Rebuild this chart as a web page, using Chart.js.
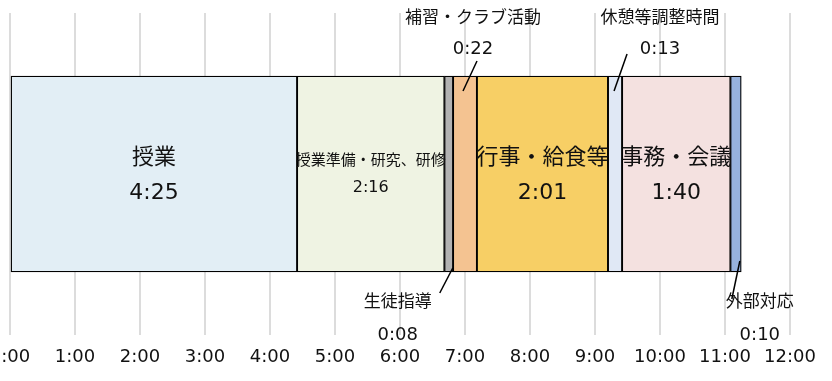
<!DOCTYPE html>
<html>
<head>
<meta charset="utf-8">
<script src="https://cdn.jsdelivr.net/npm/chart.js@4"></script>
<style>
  body { margin: 0; background: #fff; overflow: hidden; width: 832px; height: 381px; position: relative; }
  #wrap { position: absolute; left: -40px; top: 0; width: 880px; height: 381px; }
</style>
</head>
<body>
<div id="wrap"><canvas id="chart" width="880" height="381"></canvas></div>
<script>
// 活動ごとの時間（分）
const categories = ['授業', '授業準備・研究、研修', '生徒指導', '補習・クラブ活動', '行事・給食等', '休憩等調整時間', '事務・会議', '外部対応'];
const minutes = [265, 136, 8, 22, 121, 13, 100, 10];
const colors = ['#E2EEF5', '#EFF3E3', '#B2B2B2', '#F4C391', '#F7CF65', '#E0E8F5', '#F4E1E0', '#97B2DD'];
const tickHours = [0, 1, 2, 3, 4, 5, 6, 7, 8, 9, 10, 11, 12];

const FONT = "'DejaVu Sans', 'Noto Sans CJK JP', sans-serif";

function fmt(m) {
    const h = Math.floor(m / 60);
    const mm = m % 60;
    return h + ':' + (mm < 10 ? '0' : '') + mm;
}

// labels drawn inside the bar
const inside = {
    0: { size: 22, numSize: 22, up: 16, down: 19 },
    1: { size: 15, numSize: 16, up: 13, down: 14 },
    4: { size: 22, numSize: 22, up: 16, down: 19 },
    6: { size: 22, numSize: 22, up: 16, down: 19 }
};
// labels outside with a leader line
const callouts = {
    3: { side: 'top', dx: 8, line: [-2, 15, 12, -15] },
    5: { side: 'top', dx: 45, line: [-1, 15, 12, -22] },
    2: { side: 'bottom', dx: -51, line: [4, -4, -9, 21] },
    7: { side: 'bottom', dx: 24, line: [4, -11, -4, 27] }
};

const labelPlugin = {
    id: 'segLabels',
    afterDatasetsDraw(chart) {
        const ctx = chart.ctx;
        ctx.save();
        ctx.textAlign = 'center';
        ctx.textBaseline = 'middle';
        ctx.fillStyle = '#111';
        chart.data.datasets.forEach((ds, i) => {
            const el = chart.getDatasetMeta(i).data[0];
            const cx = (el.x + el.base) / 2;
            const cy = el.y;
            const top = el.y - el.height / 2;
            const bottom = el.y + el.height / 2;
            const name = categories[i];
            const t = fmt(minutes[i]);
            if (inside[i]) {
                const s = inside[i];
                ctx.font = s.size + 'px ' + FONT;
                ctx.fillText(name, cx, cy - s.up);
                ctx.font = s.numSize + 'px ' + FONT;
                ctx.fillText(t, cx, cy + s.down);
            } else if (callouts[i]) {
                const c = callouts[i];
                const lx = cx + c.dx;
                const ref = c.side === 'top' ? top : bottom;
                let nameY, timeY;
                if (c.side === 'top') { nameY = top - 57; timeY = top - 27; }
                else { nameY = bottom + 31; timeY = bottom + 63; }
                ctx.font = '17px ' + FONT;
                ctx.fillText(name, lx, nameY);
                ctx.font = '18px ' + FONT;
                ctx.fillText(t, lx, timeY);
                ctx.beginPath();
                ctx.strokeStyle = '#000';
                ctx.lineWidth = 1.5;
                ctx.moveTo(cx + c.line[0], ref + c.line[1]);
                ctx.lineTo(cx + c.line[2], ref + c.line[3]);
                ctx.stroke();
            }
        });
        ctx.restore();
    }
};

const datasets = categories.map((c, i) => ({
    label: c,
    data: [minutes[i]],
    backgroundColor: colors[i],
    borderColor: '#000',
    borderWidth: 1.3,
    borderSkipped: false,
    barThickness: 196
}));

new Chart(document.getElementById('chart'), {
    type: 'bar',
    data: { labels: [''], datasets: datasets },
    plugins: [labelPlugin],
    options: {
        indexAxis: 'y',
        responsive: false,
        animation: false,
        layout: { padding: { left: 50, right: 50, top: 13, bottom: 0 } },
        plugins: { legend: { display: false }, tooltip: { enabled: false } },
        scales: {
            x: {
                stacked: true,
                min: 0,
                max: tickHours[tickHours.length - 1] * 60,
                afterBuildTicks(scale) {
                    scale.ticks = tickHours.map(h => ({ value: h * 60 }));
                },
                afterFit(scale) { scale.height = 46; },
                grid: { color: '#DCDCDC', lineWidth: 2, drawTicks: false },
                border: { display: false },
                ticks: {
                    padding: 12,
                    color: '#111',
                    font: { family: FONT, size: 18 },
                    maxRotation: 0,
                    autoSkip: false,
                    callback: v => (v / 60) + ':00'
                }
            },
            y: { stacked: true, display: false }
        }
    }
});
</script>
</body>
</html>
